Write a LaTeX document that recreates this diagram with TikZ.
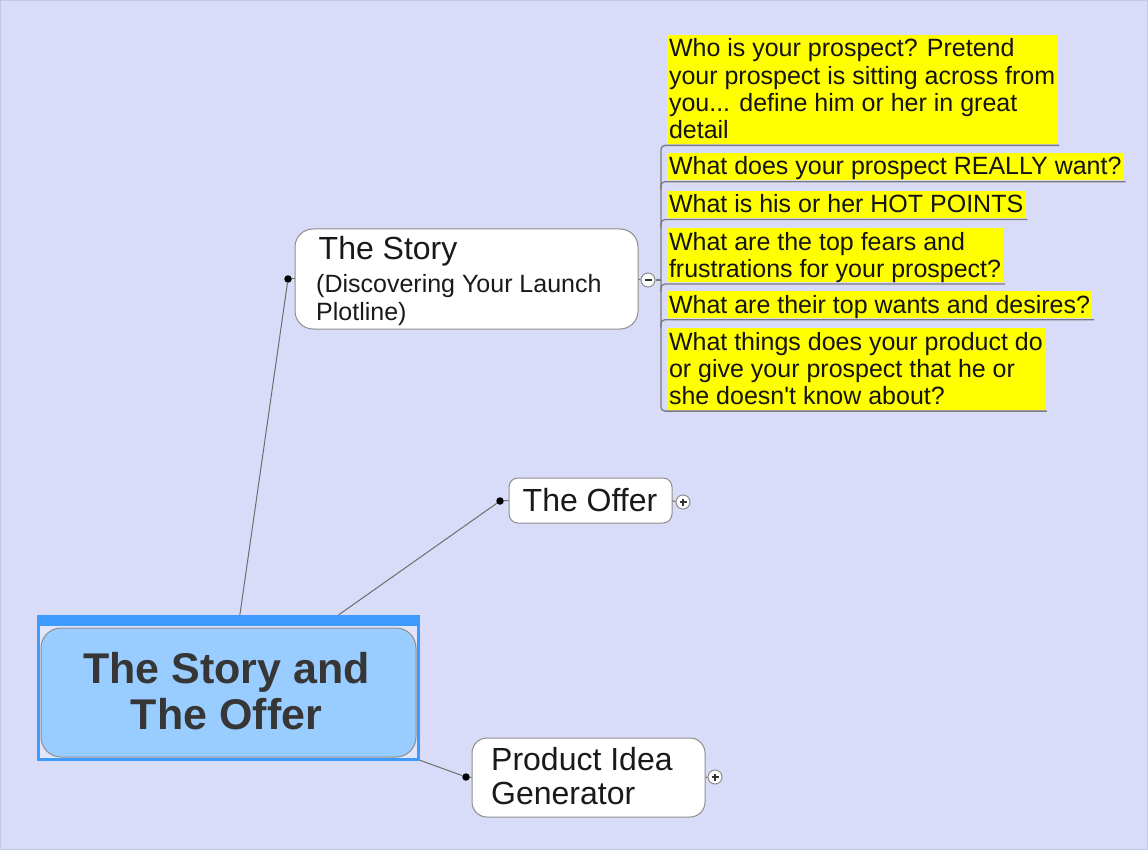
\documentclass[tikz,border=0pt]{standalone}
\usepackage{fontspec}
\setmainfont{Liberation Sans}
\definecolor{bg}{HTML}{D9DCF8}
\definecolor{edge}{HTML}{C3C6E4}
\definecolor{lineg}{HTML}{6E6E6E}
\definecolor{boxg}{HTML}{8E8E8E}
\definecolor{ulg}{HTML}{7A7A7A}
\definecolor{selblue}{HTML}{3D9BFF}
\definecolor{selin}{HTML}{E3E6FA}
\definecolor{rootfill}{HTML}{99CCFF}
\definecolor{roottext}{HTML}{363636}
\definecolor{leafy}{HTML}{FFFF00}
\newcommand\ls{\rule[-5pt]{0pt}{27pt}}
\tikzset{
  conn/.style={draw=lineg, line width=1pt},
  uline/.style={draw=ulg, line width=1.3pt, rounded corners=4pt},
  topicbox/.style={draw=boxg, fill=white, line width=1pt, inner sep=0pt},
  rootbox/.style={draw=boxg, fill=rootfill, line width=1pt, rounded corners=20pt, inner sep=0pt},
  dotn/.style={circle, fill=black, inner sep=0pt, minimum size=7.5pt},
  ttl/.style={font=\fontsize{32}{35}\selectfont, text=black!90, anchor=base west, inner sep=0pt},
  subt/.style={font=\fontsize{25}{27.3}\selectfont, text=black!90, anchor=base west, inner sep=0pt},
  roott/.style={font=\fontsize{43}{47}\selectfont\bfseries, text=roottext, anchor=base, inner sep=0pt},
  leaf/.style={fill=leafy, anchor=north west, align=left, inner xsep=2pt, inner ysep=0pt,
    outer xsep=0pt, outer ysep=1.5pt, font=\fontsize{25}{27.3}\selectfont, text=black!92},
  toggle/.style={circle, draw=boxg, fill=white, line width=1pt, minimum size=14pt, inner sep=0pt},
  minusmark/.style={toggle, path picture={\draw[line width=1.3pt, black!80]
    ([xshift=-3.5pt]path picture bounding box.center) -- ([xshift=3.5pt]path picture bounding box.center);}},
  plusmark/.style={toggle, path picture={\draw[line width=1.2pt, black!80]
    ([xshift=-3.5pt]path picture bounding box.center) -- ([xshift=3.5pt]path picture bounding box.center)
    ([yshift=-3.5pt]path picture bounding box.center) -- ([yshift=3.5pt]path picture bounding box.center);}},
}
\begin{document}
\begin{tikzpicture}[x=1pt,y=-1pt]
\useasboundingbox (0,0) rectangle (1148,850);
\fill[bg] (0,0) rectangle (1148,850);
\draw[edge, line width=1pt] (0.5,0.5) rectangle (1147.5,849.5);

% named points
\coordinate (rs) at (238,628);
\coordinate (ro) at (320,628);
\coordinate (rp) at (400,753);
\coordinate (bx) at (661,0);

% dots
\node[dotn] (d1) at (288,279) {};
\node[dotn] (d2) at (500,501) {};
\node[dotn] (d3) at (466,777) {};

% connectors from root
\draw[conn] (rs) -- (d1);
\draw[conn] (ro) -- (d2);
\draw[conn] (rp) -- (d3);

% selection frame and root
\fill[selblue] (37,615) rectangle (420,761);
\fill[selin] (40,626) rectangle (417,758);
\node[rootbox, minimum width=375pt, minimum height=129pt] (root) at (228.5,692.5) {};
\node[roott] (rt1) at (226.5,683) {The Story and};
\node[roott] (rt2) at (226.5,729) {The Offer};

% The Story
\node[topicbox, rounded corners=18pt, minimum width=343pt, minimum height=100pt] (story) at (466.5,279) {};
\node[ttl] (st1) at (318.5,260) {The Story};
\node[subt] (st2) at (316,292) {(Discovering Your Launch};
\node[subt] (st3) at (316,320) {Plotline)};
\draw[conn] (d1) -- (story.west);

% The Offer
\node[topicbox, rounded corners=9pt, minimum width=163pt, minimum height=45pt] (offer) at (590.5,500.5) {};
\node[ttl] (ot) at (522.5,511) {The Offer};
\draw[conn] (d2) -- (offer.west);

% Product Idea Generator
\node[topicbox, rounded corners=15pt, minimum width=233pt, minimum height=79pt] (prod) at (588.5,777.5) {};
\node[ttl] (pt1) at (491,770) {Product Idea};
\node[ttl] (pt2) at (491,804) {Generator};
\draw[conn] (d3) -- (prod.west);

% toggles
\node[minusmark] (tm) at (648,280) {};
\node[plusmark] (tp1) at (683,502) {};
\node[plusmark] (tp2) at (715,777) {};
\draw[conn] (story.east) -- (tm.west);
\draw[conn] (offer.east) -- (tp1.west);
\draw[conn] (prod.east) -- (tp2.west);

% leaves
\node[leaf] (l1) at (667,33.5) {\ls Who is your prospect? Pretend\\\ls your prospect is sitting across from\\\ls you... define him or her in great\\\ls detail};
\node[leaf] (l2) at (667,151.5) {\ls What does your prospect REALLY want?};
\node[leaf] (l3) at (667,189.5) {\ls What is his or her HOT POINTS};
\node[leaf] (l4) at (667,226.5) {\ls What are the top fears and\\\ls frustrations for your prospect?};
\node[leaf] (l5) at (667,289.5) {\ls What are their top wants and desires?};
\node[leaf] (l6) at (667,326.5) {\ls What things does your product do\\\ls or give your prospect that he or\\\ls she doesn\textquotesingle t know about?};

% bracket
\draw[uline] ([xshift=2pt]l1.south east) -- (l1.south -| bx) -- (l6.south -| bx) -- ([xshift=2pt]l6.south east);
\draw[uline] ([xshift=2pt]l2.south east) -- (l2.south -| bx) -- ++(0,8);
\draw[uline] ([xshift=2pt]l3.south east) -- (l3.south -| bx) -- ++(0,8);
\draw[uline] ([xshift=2pt]l4.south east) -- (l4.south -| bx) -- ++(0,8);
\draw[uline] ([xshift=2pt]l5.south east) -- (l5.south -| bx) -- ++(0,8);
\draw[uline] (tm.east) -- (tm.east -| bx);
\end{tikzpicture}
\end{document}
